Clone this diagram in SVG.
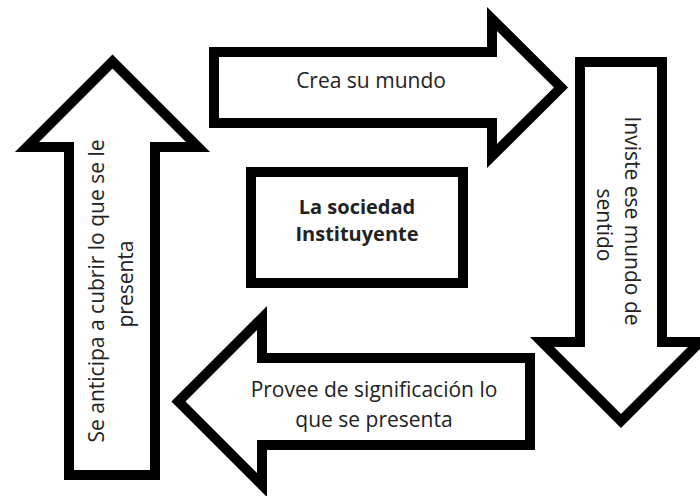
<svg xmlns="http://www.w3.org/2000/svg" width="700" height="496" viewBox="0 0 700 496">
<style>
.arrow{fill:#fff;stroke:#000;stroke-width:10;stroke-linejoin:miter;stroke-miterlimit:10}
.lbl{font-family:"Open Sans","Liberation Sans",sans-serif;font-size:21px;fill:#222;text-anchor:middle}
.bold{font-family:"Open Sans","Liberation Sans",sans-serif;font-size:20px;font-weight:bold;fill:#222;text-anchor:middle}
</style>
<rect width="700" height="496" fill="#fff"/>
<g id="connectors">
<g id="arrow-top">
<polygon class="arrow" points="214,52 492,52 492,19 561,87.5 492,156 492,123 214,123"/>
<text class="lbl" x="371" y="88">Crea su mundo</text>
</g>
<g id="arrow-right">
<polygon class="arrow" points="580,62 662,62 662,342 700,342 621,421 542,342 580,342"/>
<text class="lbl" transform="translate(625,221) rotate(90)">Inviste ese mundo de</text>
<text class="lbl" transform="translate(597,225) rotate(90)">sentido</text>
</g>
<g id="arrow-bottom">
<polygon class="arrow" points="530,358 262,358 262,318 178.5,401.5 262,485 262,445 530,445"/>
<text class="lbl" x="374" y="397">Provee de significación lo</text>
<text class="lbl" x="374" y="427">que se presenta</text>
</g>
<g id="arrow-left">
<polygon class="arrow" points="155,475 155,147 198,147 112.5,61.5 27,147 69,147 69,475"/>
<text class="lbl" transform="translate(104,291) rotate(-90)">Se anticipa a cubrir lo que se le</text>
<text class="lbl" transform="translate(133,284) rotate(-90)">presenta</text>
</g>
</g>
<g id="node-sociedad">
<rect x="251" y="172" width="212" height="111" fill="#fff" stroke="#000" stroke-width="10"/>
<text class="bold" x="357" y="214">La sociedad</text>
<text class="bold" x="357" y="241">Instituyente</text>
</g>
</svg>
